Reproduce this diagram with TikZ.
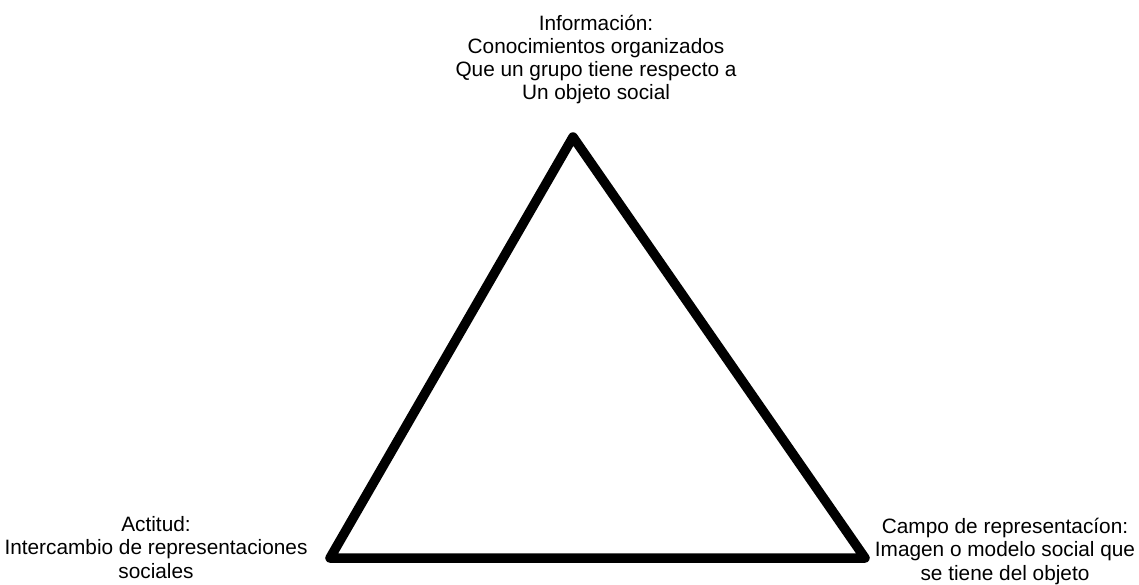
\documentclass[tikz,border=0pt]{standalone}
\usepackage{fontspec}
\setmainfont{Liberation Sans}
\begin{document}
\begin{tikzpicture}[x=1pt,y=-1pt,
  lbl/.style={align=center,inner sep=0pt,anchor=base,font=\fontsize{20.8}{23.3}\selectfont},
  tri/.style={line width=9.5pt,line join=round,line cap=round}]
\useasboundingbox (0,0) rectangle (1139,585);
\coordinate (A) at (573,137);
\coordinate (B) at (330,558);
\coordinate (C) at (865,558);
\draw[tri] (A) -- (B) -- (C) -- cycle;
\node[lbl] (info) at (596,100) {Información:\\Conocimientos organizados\\Que un grupo tiene respecto a\\Un objeto social};
\node[lbl] (actitud) at (156,578) {Actitud:\\Intercambio de representaciones\\sociales};
\node[lbl] (campo) at (1005,580) {Campo de representacíon:\\Imagen o modelo social que\\se tiene del objeto};
\end{tikzpicture}
\end{document}
